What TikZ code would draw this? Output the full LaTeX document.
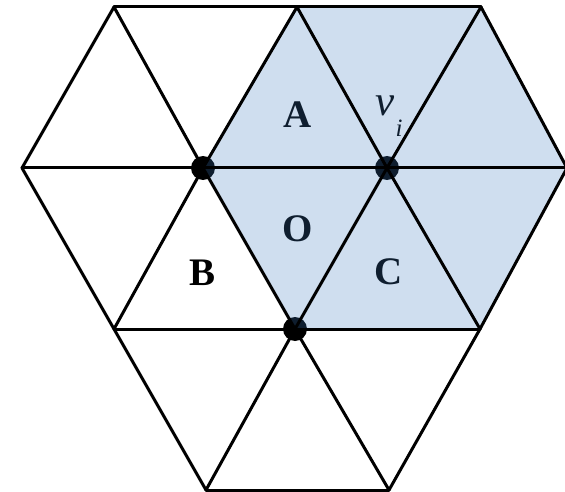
\documentclass[tikz,border=0pt]{standalone}
\usepackage{fontspec}
\setmainfont{Liberation Serif}
\begin{document}
\begin{tikzpicture}[x=1pt,y=-1pt,
  edge/.style={line width=3pt,line join=round,line cap=round},
  dot/.style={circle,inner sep=0pt,minimum size=24pt,fill=black},
  lbl/.style={inner sep=0pt,font=\fontsize{39}{39}\selectfont\bfseries},
  hexfill/.style={fill={rgb,255:red,63;green,123;blue,191},fill opacity=0.25}]
\useasboundingbox (0,0) rectangle (565,492);
% lattice vertices
\coordinate (t1) at (114,7);
\coordinate (t2) at (297,7);
\coordinate (t3) at (481,7);
\coordinate (m0) at (22,168);
\coordinate (m1) at (203,168);
\coordinate (m2) at (387,168);
\coordinate (m3) at (567,168);
\coordinate (r1) at (114,329);
\coordinate (r2) at (295,329);
\coordinate (r3) at (480,329);
\coordinate (b1) at (206,490);
\coordinate (b2) at (389,490);
% labels and dots (under the tinted fill)
\node[lbl] (A) at (298,115) {A};
\node[lbl] (O) at (298,229) {O};
\node[lbl] (B) at (203,273) {B};
\node[lbl] (C) at (389,272) {C};
\node[inner sep=0pt,font=\fontsize{43}{43}\selectfont\itshape] (v) at (385,106) {v};
\node[inner sep=0pt,font=\fontsize{25}{25}\selectfont\itshape] (vi) at (399,128) {i};
\node[dot] (d1) at (m1) {};
\node[dot] (d2) at (m2) {};
\node[dot] (d3) at (r2) {};
% shaded hexagon around v_i
\path[hexfill] (t2) -- (t3) -- (m3) -- (r3) -- (r2) -- (m1) -- cycle;
% horizontal lines
\draw[edge] (t1) -- (t3);
\draw[edge] (m0) -- (m3);
\draw[edge] (r1) -- (r3);
\draw[edge] (b1) -- (b2);
% down-right lines
\draw[edge] (t1) -- (m1) -- (r2) -- (b2);
\draw[edge] (t2) -- (m2) -- (r3);
\draw[edge] (t3) -- (m3);
\draw[edge] (m0) -- (r1) -- (b1);
% down-left lines
\draw[edge] (t1) -- (m0);
\draw[edge] (t2) -- (m1) -- (r1);
\draw[edge] (t3) -- (m2) -- (r2) -- (b1);
\draw[edge] (m3) -- (r3) -- (b2);
\end{tikzpicture}
\end{document}
